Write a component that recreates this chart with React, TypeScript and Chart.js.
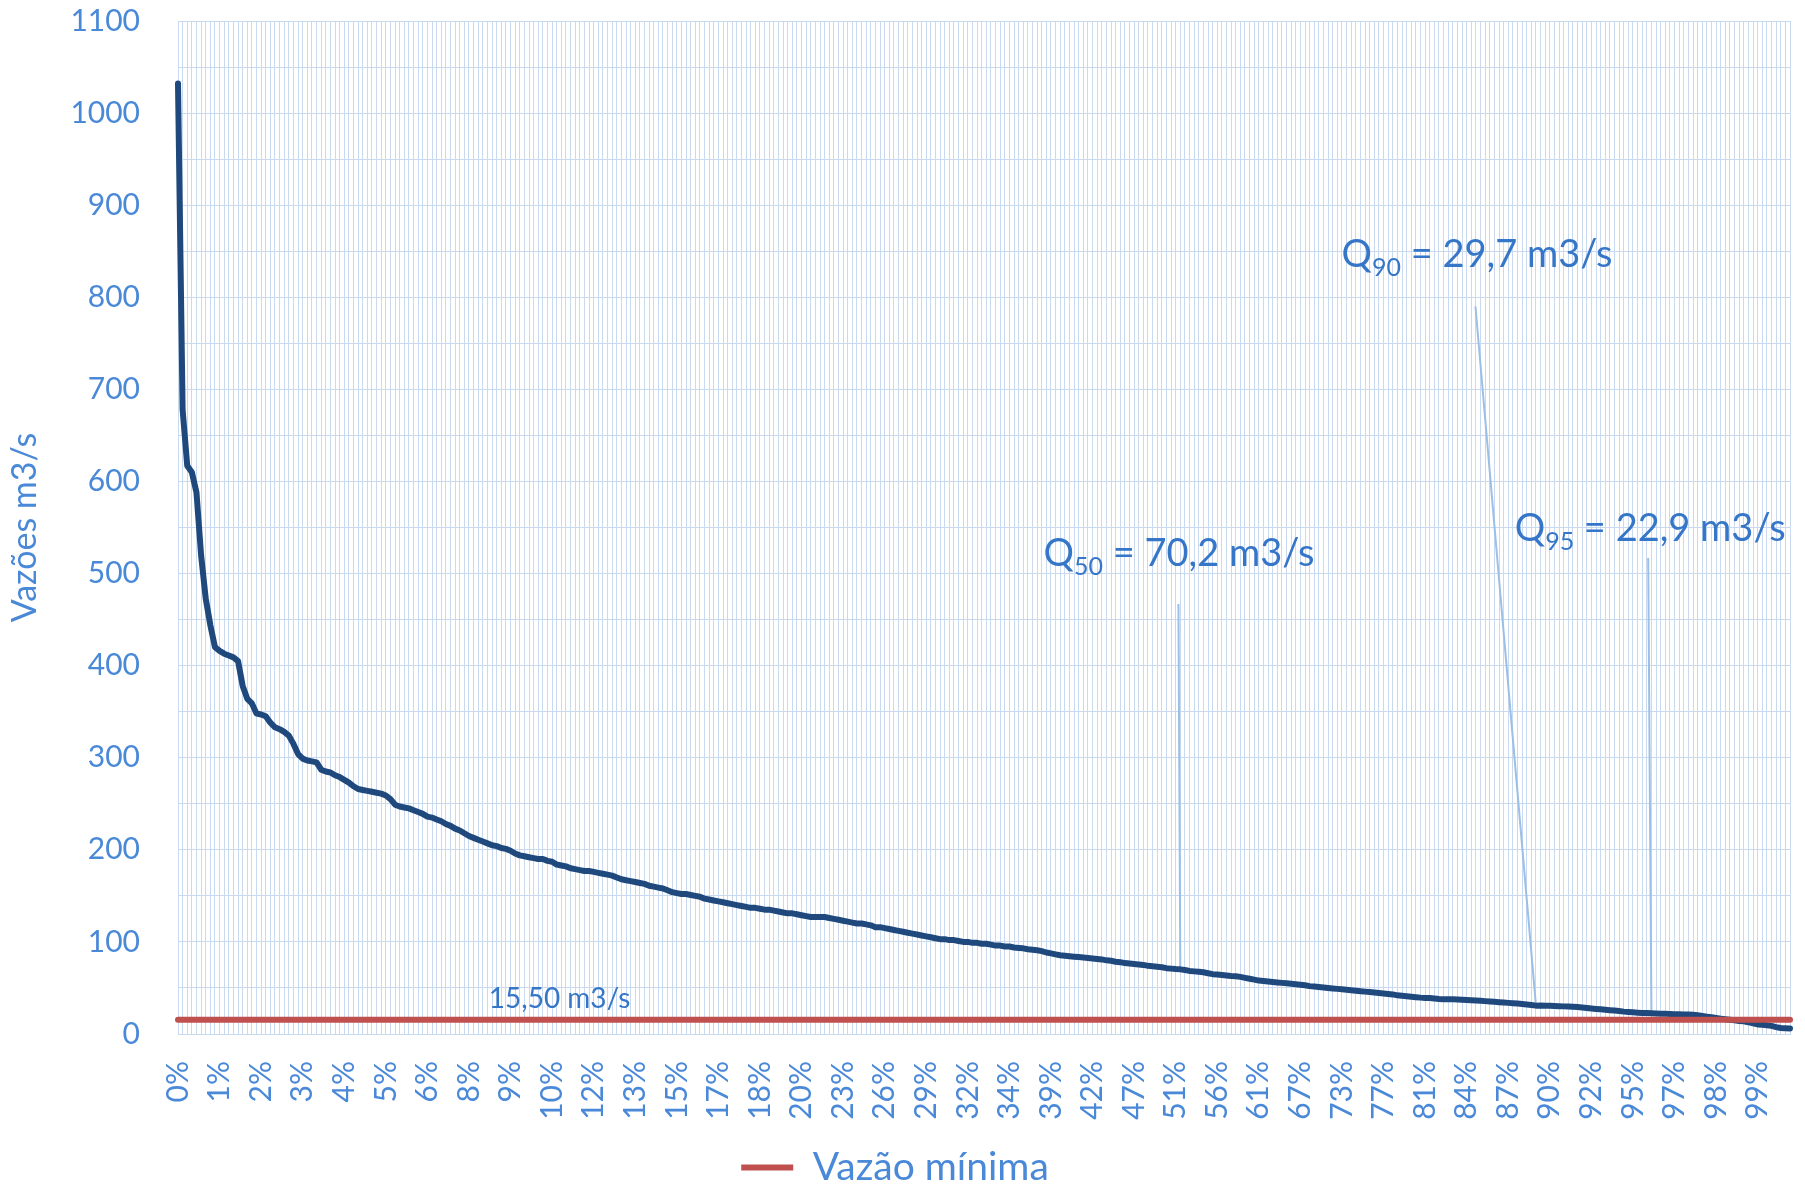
import React, { useEffect, useRef } from 'react';
import { Chart, registerables } from 'chart.js';

Chart.register(...registerables);

// Flow duration curve (m3/s), one value per category
const flow: number[] = [
  1032, 678, 617, 610, 588, 520, 473, 444, 420, 416,
  413, 411, 409, 405, 378, 364, 359, 348, 347, 345,
  338, 333, 331, 328, 324, 315, 304, 299, 297, 296,
  295, 287, 285, 284, 281, 279, 276, 273, 269, 266,
  265, 264, 263, 262, 261, 259, 255, 249, 247, 246,
  245, 243, 241, 239, 236, 235, 233, 231, 228, 226,
  223, 221, 218, 215, 213, 211, 209, 207, 205, 204,
  202, 201, 199, 196, 194, 193, 192, 191, 190, 190,
  188, 187, 184, 183, 182, 180, 179, 178, 177, 177,
  176, 175, 174, 173, 172, 170, 168, 167, 166, 165,
  164, 163, 161, 160, 159, 158, 156, 154, 153, 152,
  152, 151, 150, 149, 147, 146, 145, 144, 143, 142,
  141, 140, 139, 138, 137, 137, 136, 135, 135, 134,
  133, 132, 131, 131, 130, 129, 128, 127, 127, 127,
  127, 126, 125, 124, 123, 122, 121, 120, 120, 119,
  118, 116, 116, 115, 114, 113, 112, 111, 110, 109,
  108, 107, 106, 105, 104, 103, 103, 102, 102, 101,
  100, 100, 99, 99, 98, 98, 97, 96, 96, 95,
  95, 94, 93.5, 93, 92, 91.5, 91, 90, 88.5, 87.5,
  86.5, 85.5, 85, 84.5, 84, 83.5, 83, 82.5, 82, 81.5,
  81, 80, 79.5, 78.5, 78, 77, 76.5, 76, 75.5, 75,
  74, 73.5, 73, 72.5, 71.5, 71, 70.5, 70.2, 69.5, 68.5,
  68, 67.5, 67, 66, 65, 64.5, 64, 63.5, 63, 62.8,
  62, 61, 60, 59, 58, 57.5, 57, 56.5, 56, 55.5,
  55, 54.5, 54, 53.5, 53, 52, 51.5, 51, 50.5, 50,
  49.5, 49, 48.5, 48, 47.5, 47, 46.5, 46, 45.5, 45,
  44.5, 44, 43.5, 43, 42, 41.5, 41, 40.5, 40, 39.5,
  39.2, 39, 38.5, 38, 37.8, 37.7, 37.6, 37.5, 37.2, 37,
  36.7, 36.4, 36, 35.7, 35.3, 35, 34.6, 34.2, 33.8, 33.4,
  33, 32.5, 32, 31.5, 30.8, 31, 30.8, 30.6, 30.4, 30.2,
  30, 29.8, 29.5, 29.3, 28.8, 28.2, 27.7, 27.2, 26.8, 26.3,
  25.9, 25.4, 24.9, 24.3, 23.9, 23.5, 23.2, 22.9, 22.7, 22.5,
  22.3, 22.1, 21.9, 21.7, 21.5, 21.4, 21.3, 21.2, 21, 20.3,
  19.5, 18.8, 18.1, 17.4, 16.7, 16.1, 15.5, 14.9, 14.2, 13.8,
  12.8, 11.5, 10.4, 10, 9.5, 8.8, 7.5, 6.5, 6.2, 6.0,
];

// Percent tick labels shown on the category axis (one every LABEL_EVERY categories)
const xTickLabels: string[] = [
  '0%', '1%', '2%', '3%', '4%', '5%', '6%', '8%', '9%', '10%',
  '12%', '13%', '15%', '17%', '18%', '20%', '23%', '26%', '29%', '32%',
  '34%', '39%', '42%', '47%', '51%', '56%', '61%', '67%', '73%', '77%',
  '81%', '84%', '87%', '90%', '92%', '95%', '97%', '98%', '99%',
];
const LABEL_EVERY = 9;

// Minimum flow series
const minFlow = 15.5;
const minFlowName = 'Vazão mínima';
const minFlowText = '15,50 m3/s';

// Quantile annotations
const quantileNames = ['50', '90', '95'];
const quantileTexts = ['70,2', '29,7', '22,9'];
const quantileIndex = [217, 294, 319];

// Annotation placement in data space (category index, value)
const quantileTextAt = [
  { i: 187.4, v: 508 },
  { i: 251.9, v: 833 },
  { i: 289.4, v: 535 },
];
const quantileLeaderFrom = [
  { i: 216.6, v: 467 },
  { i: 280.9, v: 790 },
  { i: 318.3, v: 517 },
];
const minFlowTextAt = { i: 67.3, v: 28.4 };

const categories = flow.map((_, i) => String(i));

const FONT = 'Lato, "Open Sans", sans-serif';
const TICK_COLOR = '#4A88D8';
const ANN_COLOR = '#3576C8';
const GRID_COLOR = '#C9DAF0';

const annotationPlugin = {
  id: 'qAnnotations',
  beforeDatasetsDraw(chart: any) {
    const { ctx, scales } = chart;
    const x = scales.x;
    const y = scales.y;
    ctx.save();
    quantileIndex.forEach((idx, k) => {
      const from = quantileLeaderFrom[k];
      ctx.strokeStyle = '#9BBFE6';
      ctx.lineWidth = 2;
      ctx.beginPath();
      ctx.moveTo(x.getPixelForValue(from.i), y.getPixelForValue(from.v));
      ctx.lineTo(x.getPixelForValue(idx), y.getPixelForValue(flow[idx]));
      ctx.stroke();

      const at = quantileTextAt[k];
      let tx = x.getPixelForValue(at.i);
      const ty = y.getPixelForValue(at.v);
      ctx.fillStyle = ANN_COLOR;
      ctx.textAlign = 'left';
      ctx.textBaseline = 'alphabetic';
      ctx.font = `38px ${FONT}`;
      ctx.fillText('Q', tx, ty);
      tx += ctx.measureText('Q').width;
      ctx.font = `25px ${FONT}`;
      ctx.fillText(quantileNames[k], tx, ty + 9);
      tx += ctx.measureText(quantileNames[k]).width;
      ctx.font = `38px ${FONT}`;
      ctx.fillText(` = ${quantileTexts[k]} m3/s`, tx, ty);
    });
    ctx.fillStyle = ANN_COLOR;
    ctx.font = `28px ${FONT}`;
    ctx.textAlign = 'left';
    ctx.textBaseline = 'alphabetic';
    ctx.fillText(minFlowText, x.getPixelForValue(minFlowTextAt.i), y.getPixelForValue(minFlowTextAt.v));
    ctx.restore();
  },
};

export default function App() {
  const canvasRef = useRef<HTMLCanvasElement | null>(null);

  useEffect(() => {
    document.body.style.margin = '0';
    const canvas = canvasRef.current;
    if (!canvas) return;
    const chart = new Chart(canvas, {
      type: 'line',
      data: {
        labels: categories,
        datasets: [
          {
            label: minFlowName,
            data: [
              { x: categories[0], y: minFlow },
              { x: categories[categories.length - 1], y: minFlow },
            ] as any,
            borderColor: '#C0504D',
            backgroundColor: '#C0504D',
            borderWidth: 6,
            borderCapStyle: 'round',
            pointRadius: 0,
            pointStyle: 'line',
            tension: 0,
          },
          {
            label: 'Vazões',
            data: flow,
            borderColor: '#1F497D',
            backgroundColor: '#1F497D',
            borderWidth: 6,
            borderCapStyle: 'round',
            borderJoinStyle: 'round',
            pointRadius: 0,
            tension: 0,
          },
        ],
      },
      options: {
        responsive: false,
        animation: false,
        devicePixelRatio: 1,
        layout: { padding: { top: 21, right: 15, left: 0, bottom: -12 } },
        plugins: {
          tooltip: { enabled: false },
          legend: {
            position: 'bottom',
            labels: {
              filter: (item: any) => item.datasetIndex === 0,
              usePointStyle: true,
              pointStyleWidth: 52,
              boxHeight: 6,
              color: TICK_COLOR,
              font: { family: FONT, size: 39 },
              padding: 10,
            },
          },
        },
        scales: {
          x: {
            type: 'category',
            offset: false,
            grid: { color: GRID_COLOR, lineWidth: 1, drawTicks: false },
            border: { color: GRID_COLOR, width: 1 },
            ticks: {
              autoSkip: false,
              minRotation: 90,
              maxRotation: 90,
              padding: 27,
              color: TICK_COLOR,
              font: { family: FONT, size: 30 },
              callback: (_v: any, index: number) =>
                index % LABEL_EVERY === 0 ? xTickLabels[index / LABEL_EVERY] ?? '' : '',
            },
            afterFit: (scale: any) => {
              scale.height = 104;
              scale.paddingLeft = 0;
              scale.paddingRight = 0;
            },
          },
          y: {
            min: 0,
            max: 1100,
            grid: { color: GRID_COLOR, lineWidth: 1, drawTicks: false },
            border: { color: GRID_COLOR, width: 1 },
            ticks: {
              stepSize: 50,
              padding: 38,
              color: TICK_COLOR,
              font: { family: FONT, size: 30 },
              callback: (v: any) => (Number(v) % 100 === 0 ? String(v) : ''),
            },
            title: {
              display: true,
              text: 'Vazões m3/s',
              color: TICK_COLOR,
              font: { family: FONT, size: 34 },
              padding: { top: 5, bottom: 0 },
            },
            afterFit: (scale: any) => {
              scale.width = 178;
              scale.paddingTop = 0;
              scale.paddingBottom = 0;
            },
          },
        },
      },
      plugins: [annotationPlugin],
    } as any);
    return () => chart.destroy();
  }, []);

  return (
    <div style={{ width: 1805, height: 1185, background: '#ffffff' }}>
      <canvas ref={canvasRef} width={1805} height={1185} style={{ display: 'block' }} />
    </div>
  );
}
